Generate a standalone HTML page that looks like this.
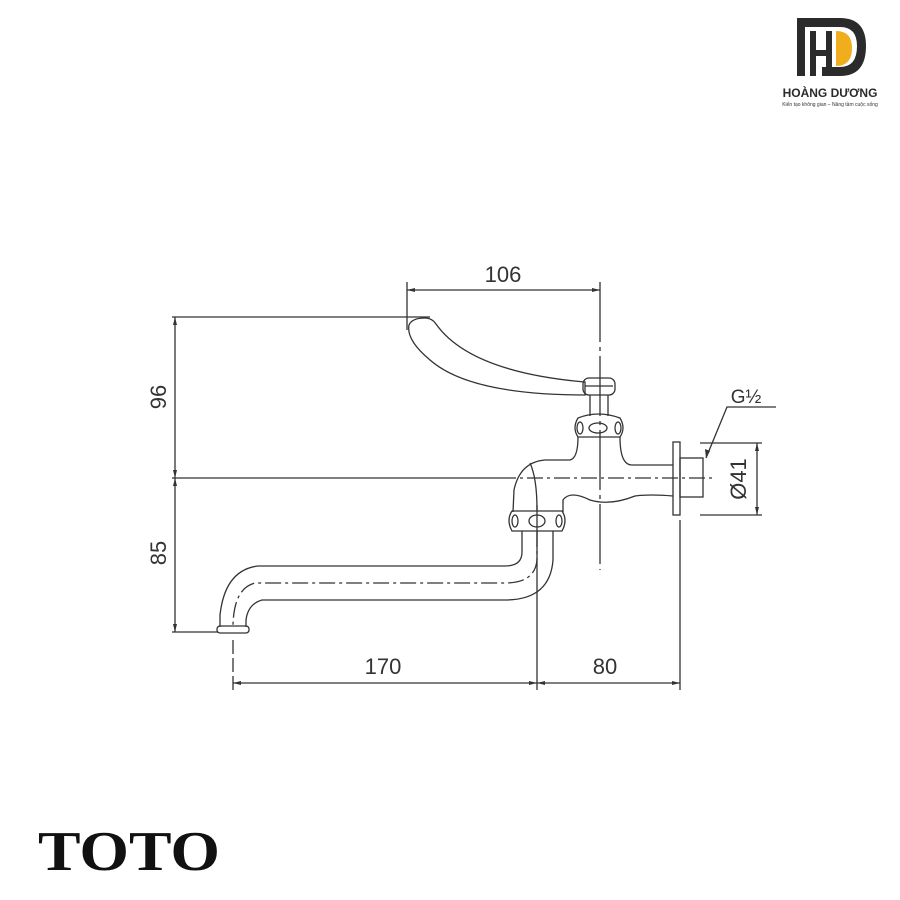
<!DOCTYPE html>
<html><head><meta charset="utf-8"><style>
html,body{margin:0;padding:0;background:#fff;}
svg{display:block;}
</style></head><body>
<svg width="900" height="900" viewBox="0 0 900 900" xmlns="http://www.w3.org/2000/svg">
<g fill="none" stroke="#333" stroke-width="1.3">
<!-- dimension lines -->
<line x1="407" y1="290" x2="600" y2="290"/>
<line x1="407" y1="282" x2="407" y2="330"/>
<line x1="600" y1="282" x2="600" y2="570" stroke-dasharray="60 5 4 5"/>
<line x1="172" y1="317" x2="430" y2="317"/>
<line x1="175" y1="317" x2="175" y2="632"/>
<line x1="172" y1="478" x2="500" y2="478"/>
<line x1="500" y1="478" x2="715" y2="478" stroke-dasharray="16 4 3 4"/>
<line x1="172" y1="632" x2="218" y2="632"/>
<line x1="233" y1="640" x2="233" y2="690" stroke-dasharray="14 4"/>
<line x1="537" y1="505" x2="537" y2="690"/>
<line x1="680" y1="520" x2="680" y2="690"/>
<line x1="233" y1="683" x2="680" y2="683"/>
<line x1="700" y1="443" x2="762" y2="443"/>
<line x1="700" y1="515" x2="762" y2="515"/>
<line x1="757" y1="443" x2="757" y2="515"/>
<polyline points="706,458 727,407 776,407"/>
<!-- arrowheads (small) -->
<g fill="#333" stroke="none">
<polygon points="407,290 415,288 415,292"/><polygon points="600,290 592,288 592,292"/>
<polygon points="175,317 173,325 177,325"/><polygon points="175,478 173,470 177,470"/>
<polygon points="175,478 173,486 177,486"/><polygon points="175,632 173,624 177,624"/>
<polygon points="233,683 241,681 241,685"/><polygon points="537,683 529,681 529,685"/>
<polygon points="537,683 545,681 545,685"/><polygon points="680,683 672,681 672,685"/>
<polygon points="757,443 755,451 759,451"/><polygon points="757,515 755,507 759,507"/>
<polygon points="706,458 705,449 710,451"/>
</g>
<!-- handle -->
<path d="M425,318 Q432,318 436,324 Q470,372 585,382 L585,395 Q470,395 430,360 Q406,340 409,325 Q412,318 425,318 Z"/>
<!-- cap/neck -->
<rect x="583" y="378" width="32" height="17" rx="6"/>
<line x1="585" y1="386" x2="613" y2="386"/>
<path d="M590,395 L590,416 M608,395 L608,416"/>
<path d="M578,418 Q598,410 620,418 Q626,428 620,437 L578,437 Q572,428 578,418 Z"/>
<ellipse cx="598" cy="428" rx="9" ry="5"/>
<ellipse cx="580" cy="428" rx="3" ry="6"/><ellipse cx="618" cy="428" rx="3" ry="6"/>
<!-- body -->
<path d="M578,437 Q578,458 570,460 L545,460 Q520,462 514,490 L513,512"/>
<path d="M620,437 Q620,465 632,465 L673,465"/>
<path d="M673,496 Q650,494 635,496 Q610,506 590,500 Q570,490 563,500 L563,512"/>
<path d="M530,463 Q537,478 537,510"/>
<rect x="673" y="442" width="7" height="73"/>
<rect x="680" y="458" width="23" height="39"/>
<!-- lower ring -->
<path d="M512,511 L562,511 Q568,520 562,531 L512,531 Q506,520 512,511 Z"/>
<ellipse cx="537" cy="521" rx="8" ry="6"/>
<ellipse cx="515" cy="521" rx="3" ry="6"/><ellipse cx="559" cy="521" rx="3" ry="6"/>
<!-- spout -->
<path d="M522,531 L522,552 Q522,566 505,566 L258,566 Q225,570 220,615 L220,627"/>
<path d="M553,531 L553,560 Q550,600 505,600 L262,600 Q248,604 246,620 L246,627"/>
<path d="M537,531 L537,560 Q535,583 505,583 L255,583 Q234,588 233,625" stroke-dasharray="16 4 3 4"/>
<rect x="217" y="626" width="32" height="7" rx="3"/>
</g>
<g font-family="Liberation Sans, sans-serif" fill="#333" font-size="22">
<text x="503" y="282" text-anchor="middle">106</text>
<text x="383" y="674" text-anchor="middle">170</text>
<text x="605" y="674" text-anchor="middle">80</text>
<text x="746" y="403" text-anchor="middle" font-size="19">G½</text>
<text transform="translate(166,397) rotate(-90)" text-anchor="middle">96</text>
<text transform="translate(166,553) rotate(-90)" text-anchor="middle">85</text>
<text transform="translate(746,479) rotate(-90)" text-anchor="middle">Ø41</text>
</g>
<text x="38" y="870" font-family="Liberation Serif, serif" font-weight="bold" font-size="56" fill="#111" textLength="182" lengthAdjust="spacingAndGlyphs">TOTO</text>
<!-- logo -->
<g>
<path d="M797,18 L840,18 Q866,18 866,46 Q866,76 840,76 L822,76 L822,67 L840,67 Q857,67 857,46 Q857,27 840,27 L805,27 L805,76 L797,76 Z" fill="#2b2b2b"/>
<rect x="810" y="31" width="6" height="45" fill="#2b2b2b"/>
<rect x="826" y="31" width="6" height="45" fill="#2b2b2b"/>
<rect x="810" y="50" width="22" height="6" fill="#2b2b2b"/>
<path d="M836,31 Q852,31 852,48 Q852,66 836,66 Z" fill="#f0ad1e"/>
<text x="830" y="97" text-anchor="middle" font-family="Liberation Sans, sans-serif" font-weight="bold" font-size="12" fill="#2b2b2b">HOÀNG DƯƠNG</text>
<text x="830" y="106" text-anchor="middle" font-family="Liberation Sans, sans-serif" font-size="5" fill="#333">Kiến tạo không gian – Nâng tầm cuộc sống</text>
</g>
</svg>
</body></html>
